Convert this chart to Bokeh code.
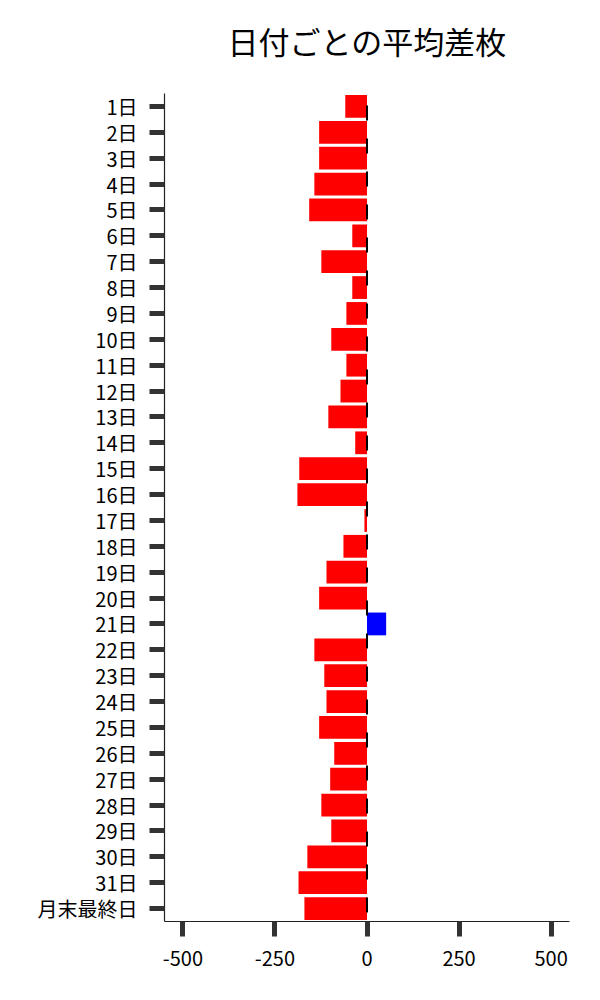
from bokeh.plotting import figure
from bokeh.models import FactorRange, Range1d, FixedTicker, Span, ColumnDataSource, CustomJSTickFormatter, Title
from bokeh.embed import file_html
from bokeh.resources import INLINE

days = [f"{i}日" for i in range(1, 32)] + ["月末最終日"]
avg_diff = [-59, -130, -130, -143, -157, -40, -124, -40, -56, -97,
            -56, -72, -105, -32, -184, -189, -7, -64, -110, -130,
            52, -143, -116, -110, -130, -89, -100, -124, -97, -162,
            -186, -170]
x_ticks = [-500, -250, 0, 250, 500]
title_text = "日付ごとの平均差枚"

FONT = "Noto Sans CJK JP"
colors = ["#0000ff" if v > 0 else "#ff0000" for v in avg_diff]
src = ColumnDataSource(dict(day=days, val=avg_diff, color=colors))

p = figure(width=600, height=1000, output_backend="svg", toolbar_location=None,
           y_range=FactorRange(*list(reversed(days)), range_padding=0),
           x_range=Range1d(-550, 550),
           min_border_left=164, min_border_right=31, min_border_top=93, min_border_bottom=79)

p.hbar(y="day", left=0, right="val", height=0.88, color="color", line_color=None, source=src)

zero = Span(location=0, dimension="height", line_color="black", line_width=2,
            line_dash="15 18", line_dash_offset=21)
p.add_layout(zero)

# spacer between plot area and title
p.add_layout(Title(text=" ", text_font_size="2px", standoff=27), "above")
p.add_layout(Title(text=title_text, text_font=FONT, text_font_size="31px",
                   text_font_style="normal", align="center", text_color="black",
                   standoff=0), "above")

p.xgrid.visible = False
p.ygrid.visible = False
p.outline_line_color = None

for ax in (p.xaxis[0], p.yaxis[0]):
    ax.axis_line_color = "#222222"
    ax.axis_line_width = 1.2
    ax.major_tick_line_color = "#333333"
    ax.major_tick_line_width = 5
    ax.major_tick_out = 15
    ax.major_tick_in = 0
    ax.minor_tick_line_color = None
    ax.major_label_text_font = FONT
    ax.major_label_text_font_size = "20px"
    ax.major_label_text_color = "black"

p.xaxis[0].ticker = FixedTicker(ticks=x_ticks)
p.xaxis[0].formatter = CustomJSTickFormatter(code="return String(tick);")
p.xaxis[0].major_label_standoff = 14
p.yaxis[0].major_label_standoff = 12

open("out.html", "w").write(file_html(p, INLINE))
